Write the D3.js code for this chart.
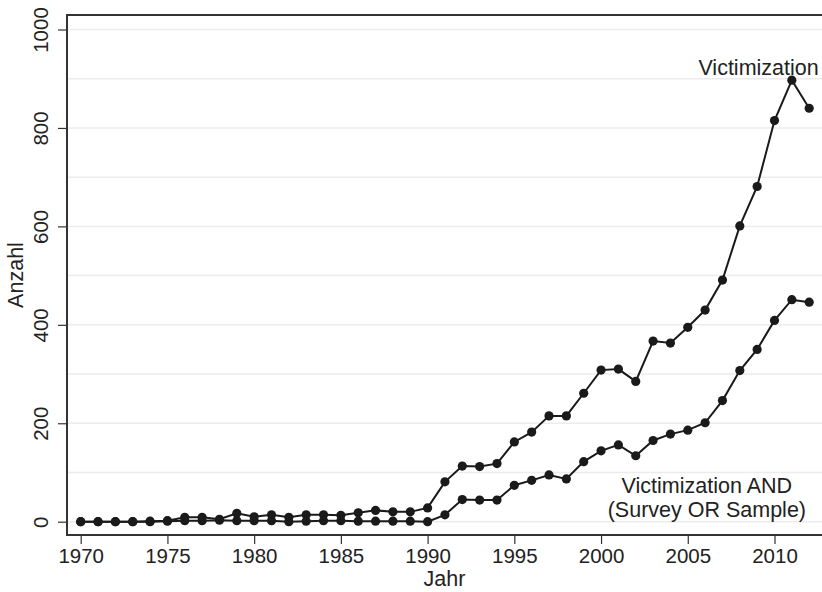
<!DOCTYPE html>
<html>
<head>
<meta charset="utf-8">
<script src="https://cdn.jsdelivr.net/npm/d3@7"></script>
<style>
  html, body { margin: 0; padding: 0; background: #fff; }
  svg { display: block; font-family: "Liberation Sans", Arial, Helvetica, sans-serif; }
</style>
</head>
<body>
<div id="chart"></div>
<script>
// data
const years = d3.range(1970, 2013);
const victimization = [
  0, 0, 0, 0, 1, 2, 9, 9, 5, 17,
  10, 14, 9, 14, 14, 13, 18, 23, 20, 20,
  28, 81, 113, 112, 118, 162, 182, 215, 215, 261,
  308, 310, 285, 367, 363, 395, 430, 491, 601, 681,
  815, 897, 840
];
const victimSurvey = [
  0, 0, 0, 0, 0, 1, 2, 2, 3, 2,
  2, 2, 0, 1, 2, 2, 1, 1, 1, 1,
  0, 14, 45, 44, 44, 74, 84, 95, 87, 122,
  144, 156, 134, 165, 178, 186, 201, 246, 307, 350,
  409, 451, 446
];
const xTicks = [1970, 1975, 1980, 1985, 1990, 1995, 2000, 2005, 2010];
const yTicks = [0, 200, 400, 600, 800, 1000];
const yGrid = d3.range(0, 1001, 100);

const W = 822, H = 592;
const frame = { l: 67, t: 15, r: 822, b: 535 };
const font = "'Liberation Sans', Arial, sans-serif";

const svg = d3.select("#chart").append("svg")
  .attr("width", W).attr("height", H);

const x = d3.scaleLinear().domain([1970, 2010]).range([80.7, 774.5]);
const y = d3.scaleLinear().domain([0, 1000]).range([521.7, 29.5]);

// gridlines
svg.append("g").selectAll("line").data(yGrid).join("line")
  .attr("x1", frame.l).attr("x2", frame.r)
  .attr("y1", d => y(d)).attr("y2", d => y(d))
  .attr("stroke", "#ececec").attr("stroke-width", 1.5);

// frame (top, left, bottom)
svg.append("path")
  .attr("d", `M${frame.r},${frame.t}H${frame.l}V${frame.b}H${frame.r}`)
  .attr("fill", "none").attr("stroke", "#333").attr("stroke-width", 2);

// axes
const xAxis = svg.append("g")
  .attr("transform", `translate(0,${frame.b})`)
  .call(d3.axisBottom(x).tickValues(xTicks).tickFormat(d3.format("d")).tickSize(9).tickPadding(4));
xAxis.select(".domain").remove();
xAxis.selectAll("line").attr("stroke", "#333").attr("stroke-width", 1.2);
xAxis.selectAll("text").attr("fill", "#222").style("font-size", "20.5px")
  .style("font-family", font);

const yAxis = svg.append("g")
  .attr("transform", `translate(${frame.l},0)`)
  .call(d3.axisLeft(y).tickValues(yTicks).tickFormat(d3.format("d")).tickSize(9));
yAxis.select(".domain").remove();
yAxis.selectAll("line").attr("stroke", "#333").attr("stroke-width", 1.2);
yAxis.selectAll("text")
  .attr("fill", "#222").style("font-size", "20.5px")
  .style("font-family", font)
  .attr("x", 0).attr("y", 0).attr("dy", null)
  .attr("text-anchor", "middle")
  .attr("transform", "translate(-19,0) rotate(-90)");

// axis titles
svg.append("text")
  .attr("x", (frame.l + frame.r) / 2).attr("y", 586)
  .attr("text-anchor", "middle").attr("fill", "#222")
  .style("font-size", "21.5px").text("Jahr");
svg.append("text")
  .attr("transform", `translate(23,${(frame.t + frame.b) / 2}) rotate(-90)`)
  .attr("text-anchor", "middle").attr("fill", "#222")
  .style("font-size", "21.5px").text("Anzahl");

// series
const series = [victimization, victimSurvey];
const line = d3.line().x((d, i) => x(years[i])).y(d => y(d));
series.forEach(vals => {
  svg.append("path").datum(vals)
    .attr("d", line)
    .attr("fill", "none").attr("stroke", "#1a1a1a").attr("stroke-width", 2);
  svg.append("g").selectAll("circle").data(vals).join("circle")
    .attr("cx", (d, i) => x(years[i])).attr("cy", d => y(d))
    .attr("r", 4.6).attr("fill", "#1a1a1a");
});

// series labels
svg.append("text")
  .attr("x", x(2012.55)).attr("y", y(907))
  .attr("text-anchor", "end").attr("fill", "#222")
  .style("font-size", "21.5px").text("Victimization");
const lab2 = svg.append("text")
  .attr("x", x(2006.1)).attr("y", y(58))
  .attr("text-anchor", "middle").attr("fill", "#222")
  .style("font-size", "21.5px");
lab2.append("tspan").attr("x", x(2006.1)).text("Victimization AND");
lab2.append("tspan").attr("x", x(2006.1)).attr("dy", 24).text("(Survey OR Sample)");
</script>
</body>
</html>
